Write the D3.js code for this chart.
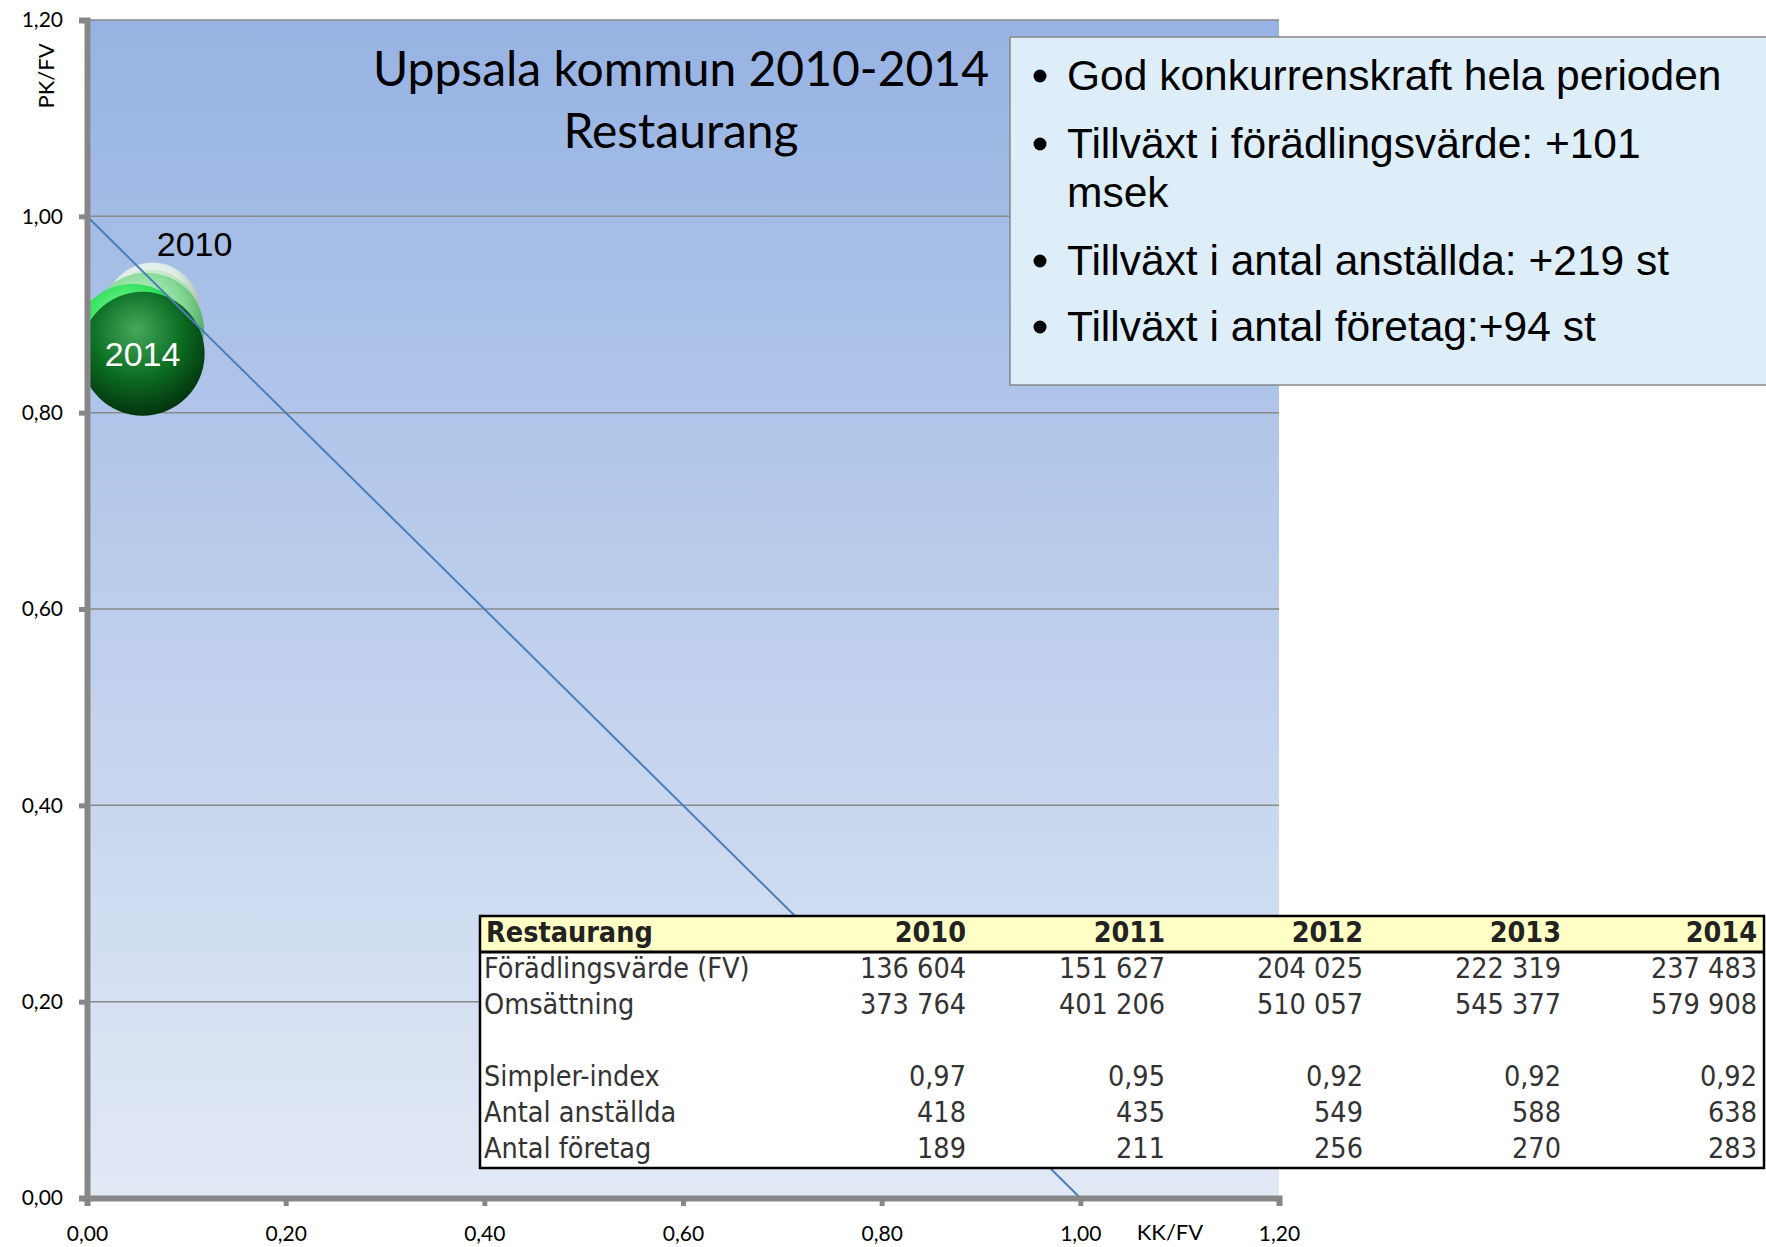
<!DOCTYPE html>
<html>
<head>
<meta charset="utf-8">
<script src="https://cdn.jsdelivr.net/npm/d3@7"></script>
<style>
  body { margin: 0; background: #fff; }
  svg { display: block; }
</style>
</head>
<body>
<svg id="chart" width="1766" height="1247"></svg>
<script>
// bubble data
var years = [2010, 2011, 2012, 2013, 2014];
var kkfv = [0.066, 0.064, 0.060, 0.046, 0.056];
var pkfv = [0.905, 0.895, 0.884, 0.870, 0.860];

// table data
var tableHeader = "Restaurang";
var fv = [136604, 151627, 204025, 222319, 237483];
var omsattning = [373764, 401206, 510057, 545377, 579908];
var simpler = [0.97, 0.95, 0.92, 0.92, 0.92];
var anstallda = [418, 435, 549, 588, 638];
var foretag = [189, 211, 256, 270, 283];

var bullets = [
    ["God konkurrenskraft hela perioden"],
    ["Tillväxt i förädlingsvärde: +101", "msek"],
    ["Tillväxt i antal anställda: +219 st"],
    ["Tillväxt i antal företag:+94 st"]
];

var yTicks = [0, 0.2, 0.4, 0.6, 0.8, 1.0, 1.2];
var xTicks = [0, 0.2, 0.4, 0.6, 0.8, 1.0, 1.2];

var sv = d3.formatLocale({decimal: ",", thousands: " ", grouping: [3], currency: ["", " kr"]});
var fmtAxis = sv.format(".2f");
var fmtInt = sv.format(",d");

var svg = d3.select("#chart");
var defs = svg.append("defs");

var x = d3.scaleLinear().domain([0, 1.2]).range([87, 1279]);
var y = d3.scaleLinear().domain([0, 1.2]).range([1198, 20]);
var r = d3.scaleSqrt().domain([0, d3.max(fv)]).range([0, 62]);

// plot background gradient
var bg = defs.append("linearGradient").attr("id", "bg")
    .attr("x1", 0).attr("y1", 0).attr("x2", 0).attr("y2", 1);
bg.append("stop").attr("offset", "0%").attr("stop-color", "#97b3e3");
bg.append("stop").attr("offset", "100%").attr("stop-color", "#e2e9f5");

defs.append("clipPath").attr("id", "plotclip")
    .append("rect")
    .attr("x", x(0)).attr("y", y(1.2))
    .attr("width", x(1.2) - x(0)).attr("height", y(0) - y(1.2));

svg.append("rect")
    .attr("x", x(0)).attr("y", y(1.2))
    .attr("width", x(1.2) - x(0)).attr("height", y(0) - y(1.2))
    .attr("fill", "url(#bg)");

// gridlines
svg.append("g").selectAll("line")
    .data(yTicks.slice(1))
    .enter().append("line")
    .attr("x1", x(0)).attr("x2", x(1.2))
    .attr("y1", function (d) { return y(d); })
    .attr("y2", function (d) { return y(d); })
    .attr("stroke", "#8a8a8a")
    .attr("stroke-width", 1.5);

// sphere gradients, one per year
var sphereCols = [
    ["#ffffff", "#e4f2e4", "#8fa88f", 0.9],
    ["#f0fff0", "#bfe8c4", "#80b888", 0.85],
    ["#c9f5d0", "#7fd890", "#3f9a50", 0.9],
    ["#8dffa8", "#2fe05a", "#129a30", 1],
    ["#45a85a", "#0c6f24", "#03340e", 1]
];
years.forEach(function (yr, i) {
    var g = defs.append("radialGradient").attr("id", "sph" + yr)
        .attr("cx", "45%").attr("cy", "35%").attr("r", "65%")
        .attr("fx", "45%").attr("fy", "30%");
    g.append("stop").attr("offset", "0%").attr("stop-color", sphereCols[i][0]);
    g.append("stop").attr("offset", "55%").attr("stop-color", sphereCols[i][1]);
    g.append("stop").attr("offset", "100%").attr("stop-color", sphereCols[i][2]);
});

var bubbles = years.map(function (yr, i) {
    return {year: yr, kk: kkfv[i], pk: pkfv[i], size: fv[i], op: sphereCols[i][3]};
});

svg.append("g").attr("clip-path", "url(#plotclip)")
    .selectAll("circle")
    .data(bubbles)
    .enter().append("circle")
    .attr("cx", function (d) { return x(d.kk); })
    .attr("cy", function (d) { return y(d.pk); })
    .attr("r", function (d) { return r(d.size); })
    .attr("fill", function (d) { return "url(#sph" + d.year + ")"; })
    .attr("fill-opacity", function (d) { return d.op; });

// diagonal line (0,1) -> (1,0)
svg.append("line")
    .attr("x1", x(0)).attr("y1", y(1))
    .attr("x2", x(1)).attr("y2", y(0))
    .attr("stroke", "#4a7ebb")
    .attr("stroke-width", 2);

// bubble labels
var first = bubbles[0], last = bubbles[bubbles.length - 1];
svg.append("text")
    .attr("x", x(first.kk) + 42).attr("y", y(first.pk) - 54)
    .attr("text-anchor", "middle")
    .attr("font-family", "Liberation Sans, Arial, sans-serif")
    .attr("font-size", 34)
    .attr("fill", "#000")
    .text(first.year);
svg.append("text")
    .attr("x", x(last.kk)).attr("y", y(last.pk) + 12)
    .attr("text-anchor", "middle")
    .attr("font-family", "Liberation Sans, Arial, sans-serif")
    .attr("font-size", 34)
    .attr("fill", "#fff")
    .text(last.year);

// axes
var yAxis = svg.append("g")
    .attr("transform", "translate(" + x(0) + ",0)")
    .call(d3.axisLeft(y).tickValues(yTicks).tickSize(8).tickPadding(16).tickFormat(fmtAxis));
var xAxis = svg.append("g")
    .attr("transform", "translate(0," + y(0) + ")")
    .call(d3.axisBottom(x).tickValues(xTicks).tickSize(8).tickPadding(20).tickFormat(fmtAxis));

[yAxis, xAxis].forEach(function (ax) {
    ax.select(".domain").attr("stroke", "#878787").attr("stroke-width", 6);
    ax.selectAll(".tick line").attr("stroke", "#878787").attr("stroke-width", 5);
    ax.selectAll(".tick text")
        .attr("font-family", "Lato, Open Sans, sans-serif")
        .attr("font-size", 21)
        .attr("fill", "#000");
});

svg.append("text")
    .attr("transform", "translate(54,76) rotate(-90)")
    .attr("text-anchor", "middle")
    .attr("font-family", "Lato, Open Sans, sans-serif")
    .attr("font-size", 22)
    .text("PK/FV");
svg.append("text")
    .attr("x", 1170).attr("y", 1240)
    .attr("text-anchor", "middle")
    .attr("font-family", "Lato, Open Sans, sans-serif")
    .attr("font-size", 22)
    .text("KK/FV");

// title
var title = svg.append("text")
    .attr("text-anchor", "middle")
    .attr("font-family", "Lato, Open Sans, sans-serif")
    .attr("font-size", 48)
    .attr("fill", "#000");
title.append("tspan").attr("x", 681).attr("y", 86).text("Uppsala kommun 2010-2014");
title.append("tspan").attr("x", 681).attr("y", 148).text("Restaurang");

// text box with bullets
svg.append("rect")
    .attr("x", 1010).attr("y", 37)
    .attr("width", 770).attr("height", 348)
    .attr("fill", "#ddeef9")
    .attr("stroke", "#888")
    .attr("stroke-width", 1.5);

var lineY = [[90], [158, 207], [275], [341]];
var bl = svg.append("g")
    .attr("font-family", "Liberation Sans, Arial, sans-serif")
    .attr("font-size", 42.5)
    .attr("fill", "#000");
bullets.forEach(function (lines, i) {
    bl.append("circle").attr("cx", 1040).attr("cy", lineY[i][0] - 14).attr("r", 6.5);
    lines.forEach(function (t, j) {
        bl.append("text").attr("x", 1067).attr("y", lineY[i][j]).text(t);
    });
});

// data table
var tbl = svg.append("g");
var tx0 = 480, tx1 = 1764, ty0 = 916, ty1 = 1168, th = 952;
var colRight = [966, 1165, 1363, 1561, 1757];
tbl.append("rect").attr("x", tx0).attr("y", ty0)
    .attr("width", tx1 - tx0).attr("height", ty1 - ty0)
    .attr("fill", "#fff");
tbl.append("rect").attr("x", tx0).attr("y", ty0)
    .attr("width", tx1 - tx0).attr("height", th - ty0)
    .attr("fill", "#ffffc6");
tbl.append("line").attr("x1", tx0).attr("x2", tx1).attr("y1", th).attr("y2", th)
    .attr("stroke", "#000").attr("stroke-width", 3);
tbl.append("rect").attr("x", tx0).attr("y", ty0)
    .attr("width", tx1 - tx0).attr("height", ty1 - ty0)
    .attr("fill", "none").attr("stroke", "#000").attr("stroke-width", 2.5);

var rows = [
    {label: "Förädlingsvärde (FV)", vals: fv.map(fmtInt), y: 978},
    {label: "Omsättning", vals: omsattning.map(fmtInt), y: 1014},
    {label: "Simpler-index", vals: simpler.map(sv.format(".2f")), y: 1086},
    {label: "Antal anställda", vals: anstallda.map(fmtInt), y: 1122},
    {label: "Antal företag", vals: foretag.map(fmtInt), y: 1158}
];

var tfont = "DejaVu Sans Condensed, DejaVu Sans, sans-serif";
tbl.append("text").attr("x", tx0 + 6).attr("y", 942)
    .attr("font-family", tfont).attr("font-size", 28.5).attr("font-weight", "bold")
    .attr("fill", "#222").text(tableHeader);
tbl.selectAll(".yr").data(years).enter().append("text")
    .attr("x", function (d, i) { return colRight[i]; })
    .attr("y", 942)
    .attr("text-anchor", "end")
    .attr("font-family", tfont).attr("font-size", 28.5).attr("font-weight", "bold")
    .attr("fill", "#222")
    .text(function (d) { return d; });

rows.forEach(function (row) {
    tbl.append("text").attr("x", tx0 + 4).attr("y", row.y)
        .attr("font-family", tfont).attr("font-size", 28.5)
        .attr("fill", "#333").text(row.label);
    row.vals.forEach(function (v, i) {
        tbl.append("text").attr("x", colRight[i]).attr("y", row.y)
            .attr("text-anchor", "end")
            .attr("font-family", tfont).attr("font-size", 28.5)
            .attr("fill", "#333").text(v);
    });
});
</script>
</body>
</html>
